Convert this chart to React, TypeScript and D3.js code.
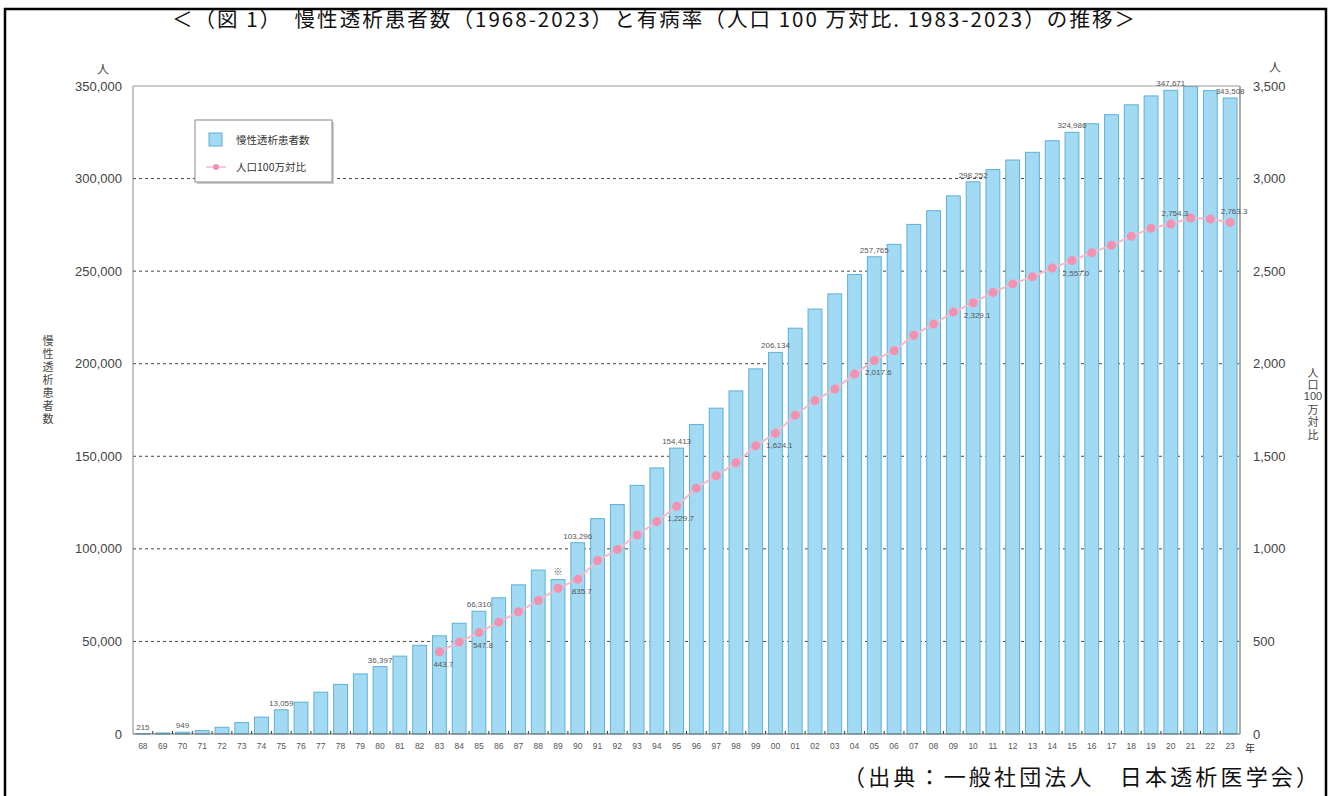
import * as React from "react";
import * as d3 from "d3";

// 年 (西暦の下2桁)
const years = ["68","69","70","71","72","73","74","75","76","77","78","79","80","81","82","83","84","85","86","87","88","89","90","91","92","93","94","95","96","97","98","99","00","01","02","03","04","05","06","07","08","09","10","11","12","13","14","15","16","17","18","19","20","21","22","23"];

// 慢性透析患者数 (人)
const patients = [215,550,949,1826,3631,6148,9107,13059,17211,22580,26807,32433,36397,42064,47881,53017,59811,66310,73537,80553,88534,83400,103296,116303,123926,134298,143709,154413,167192,175988,185322,197213,206134,219183,229538,237710,248166,257765,264473,275242,282622,290661,298252,304856,310007,314180,320448,324986,329609,334505,339841,344640,347671,349700,347474,343508];

// 人口100万対比 (1983-2023)
const rateYears = ["83","84","85","86","87","88","89","90","91","92","93","94","95","96","97","98","99","00","01","02","03","04","05","06","07","08","09","10","11","12","13","14","15","16","17","18","19","20","21","22","23"];
const rates = [443.7,497,547.8,604,660,721,787,835.7,937,997,1075,1147,1229.7,1328,1395,1465,1557,1624.1,1722,1801,1863,1944,2017.6,2070,2154,2214,2279,2329.1,2385,2431,2470,2517,2557.0,2600,2640,2688,2732,2754.3,2787,2781,2763.3];

// 値ラベルを付ける年
const barLabelYears = ["68","70","75","80","85","90","95","00","05","10","15","20","23"];
const rateLabelYears = ["83","85","90","95","00","05","10","15","20","23"];

const leftTicks = [0,50000,100000,150000,200000,250000,300000,350000];
const rightTicks = [0,500,1000,1500,2000,2500,3000,3500];

const title = "＜（図 1）　慢性透析患者数（1968-2023）と有病率（人口 100 万対比. 1983-2023）の推移＞";
const source = "（出典：一般社団法人　日本透析医学会）";

const W = 1330, H = 796;
const cjk = "'Noto Sans CJK JP', sans-serif";
const num = "'Liberation Sans', Arial, sans-serif";

export default function App() {
  const node = React.useRef<SVGSVGElement>(null);

  React.useEffect(() => {
    const svg = d3.select(node.current);
    svg.selectAll("*").remove();

    const left = 133, right = 1240, top = 86, bottom = 734;

    const x = d3.scaleBand().domain(years).range([left, right]).paddingInner(0.3).paddingOuter(0.15);
    const y = d3.scaleLinear().domain([0, 350000]).range([bottom, top]);
    const yR = d3.scaleLinear().domain([0, 3500]).range([bottom, top]);
    const cx = (k) => x(k) + x.bandwidth() / 2;

    // 外枠
    svg.append("rect").attr("x", 5).attr("y", 9).attr("width", 1321).attr("height", 820)
      .attr("fill", "#fff").attr("stroke", "#000").attr("stroke-width", 2.5);

    svg.append("text").attr("x", 172).attr("y", 27)
      .attr("textLength", 963).attr("lengthAdjust", "spacing")
      .style("font-family", cjk).style("font-size", "20.5px").attr("fill", "#111").text(title);

    svg.append("text").attr("x", 843).attr("y", 785)
      .attr("textLength", 475).attr("lengthAdjust", "spacing")
      .style("font-family", cjk).style("font-size", "22px").attr("fill", "#111").text(source);

    // グリッド
    svg.append("g").selectAll("line").data(leftTicks.filter(d => d > 0 && d < 350000)).join("line")
      .attr("x1", left).attr("x2", right).attr("y1", d => y(d)).attr("y2", d => y(d))
      .attr("stroke", "#444").attr("stroke-width", 1).attr("stroke-dasharray", "3,3");

    // 棒
    svg.append("g").selectAll("rect").data(patients).join("rect")
      .attr("x", (d, i) => x(years[i]))
      .attr("y", d => y(d))
      .attr("width", x.bandwidth())
      .attr("height", d => bottom - y(d))
      .attr("fill", "#a2daf3").attr("stroke", "#5fb0d4").attr("stroke-width", 1);

    // 枠線
    svg.append("line").attr("x1", left).attr("x2", right).attr("y1", top).attr("y2", top).attr("stroke", "#999");
    svg.append("line").attr("x1", left).attr("x2", left).attr("y1", top).attr("y2", bottom).attr("stroke", "#888");
    svg.append("line").attr("x1", right).attr("x2", right).attr("y1", top).attr("y2", bottom).attr("stroke", "#aaa").attr("stroke-width", 2);
    svg.append("line").attr("x1", left).attr("x2", right).attr("y1", bottom).attr("y2", bottom).attr("stroke", "#666");

    // x軸の目盛り
    svg.append("g").selectAll("line").data(years.slice(1)).join("line")
      .attr("x1", d => x(d) - x.step() * 0.15).attr("x2", d => x(d) - x.step() * 0.15)
      .attr("y1", bottom - 3).attr("y2", bottom).attr("stroke", "#333");

    svg.append("g").selectAll("text").data(years).join("text")
      .attr("x", d => cx(d)).attr("y", 749).attr("text-anchor", "middle")
      .style("font-family", num).style("font-size", "8.5px").attr("fill", "#555").text(d => d);
    svg.append("text").attr("x", 1250).attr("y", 752).attr("text-anchor", "middle")
      .style("font-family", cjk).style("font-size", "10px").attr("fill", "#333").text("年");

    // 左軸
    svg.append("g").selectAll("text").data(leftTicks).join("text")
      .attr("x", 122).attr("y", d => y(d) + 4.5).attr("text-anchor", "end")
      .style("font-family", num).style("font-size", "13px").attr("fill", "#444").text(d => d3.format(",")(d));
    svg.append("text").attr("x", 103).attr("y", 74).attr("text-anchor", "middle")
      .style("font-family", cjk).style("font-size", "12px").attr("fill", "#444").text("人");
    svg.append("text").attr("x", 48).attr("y", 335)
      .style("writing-mode", "vertical-rl").style("letter-spacing", "2px")
      .style("font-family", cjk).style("font-size", "11px").attr("fill", "#444").text("慢性透析患者数");

    // 右軸
    svg.append("g").selectAll("text").data(rightTicks).join("text")
      .attr("x", 1253).attr("y", d => yR(d) + 4.5).attr("text-anchor", "start")
      .style("font-family", num).style("font-size", "13px").attr("fill", "#444").text(d => d3.format(",")(d));
    svg.append("text").attr("x", 1275).attr("y", 72).attr("text-anchor", "middle")
      .style("font-family", cjk).style("font-size", "12px").attr("fill", "#444").text("人");
    svg.append("text").attr("x", 1313).attr("y", 367)
      .style("writing-mode", "vertical-rl").style("letter-spacing", "1.5px")
      .style("font-family", cjk).style("font-size", "11px").attr("fill", "#444").text("人口");
    svg.append("text").attr("x", 1313).attr("y", 400).attr("text-anchor", "middle")
      .style("font-family", num).style("font-size", "11px").attr("fill", "#444").text("100");
    svg.append("text").attr("x", 1313).attr("y", 404)
      .style("writing-mode", "vertical-rl").style("letter-spacing", "1.5px")
      .style("font-family", cjk).style("font-size", "11px").attr("fill", "#444").text("万対比");

    // 棒の値ラベル
    svg.append("g").selectAll("text").data(barLabelYears).join("text")
      .attr("x", d => cx(d)).attr("y", d => y(patients[years.indexOf(d)]) - 4).attr("text-anchor", "middle")
      .style("font-family", num).style("font-size", "8px").attr("fill", "#555")
      .text(d => d3.format(",")(patients[years.indexOf(d)]));
    svg.append("text").attr("x", cx("89")).attr("y", y(patients[years.indexOf("89")]) - 5).attr("text-anchor", "middle")
      .style("font-family", cjk).style("font-size", "9px").attr("fill", "#555").text("※");

    // 折れ線
    const line = d3.line<number>().x((d, i) => cx(rateYears[i])).y(d => yR(d));
    svg.append("path").datum(rates).attr("d", line).attr("fill", "none")
      .attr("stroke", "#f4b8cb").attr("stroke-width", 2);
    svg.append("g").selectAll("circle").data(rates).join("circle")
      .attr("cx", (d, i) => cx(rateYears[i])).attr("cy", d => yR(d)).attr("r", 4.5)
      .attr("fill", "#f291b0");

    svg.append("g").selectAll("text").data(rateLabelYears).join("text")
      .attr("x", d => cx(d) + 4)
      .attr("y", d => {
        const v = rates[rateYears.indexOf(d)];
        return d === "20" || d === "23" ? yR(v) - 8 : yR(v) + 15;
      })
      .attr("text-anchor", "middle")
      .style("font-family", num).style("font-size", "8px").attr("fill", "#555")
      .text(d => d3.format(",.1f")(rates[rateYears.indexOf(d)]));

    // 凡例
    const lg = svg.append("g");
    lg.append("rect").attr("x", 197).attr("y", 122).attr("width", 137).attr("height", 62).attr("fill", "#ccc");
    lg.append("rect").attr("x", 195).attr("y", 120).attr("width", 137).attr("height", 62)
      .attr("fill", "#fff").attr("stroke", "#888");
    lg.append("rect").attr("x", 209).attr("y", 133).attr("width", 13).attr("height", 13)
      .attr("fill", "#a2daf3").attr("stroke", "#5fb0d4");
    lg.append("text").attr("x", 236).attr("y", 144).style("font-family", cjk).style("font-size", "10.5px")
      .attr("fill", "#333").text("慢性透析患者数");
    lg.append("line").attr("x1", 206).attr("x2", 226).attr("y1", 167).attr("y2", 167).attr("stroke", "#f4b8cb").attr("stroke-width", 1.5);
    lg.append("circle").attr("cx", 216).attr("cy", 167).attr("r", 3).attr("fill", "#f291b0");
    lg.append("text").attr("x", 236).attr("y", 171).style("font-family", cjk).style("font-size", "10.5px")
      .attr("fill", "#333").text("人口100万対比");
  }, []);

  return (
    <svg ref={node} width={W} height={H}
      style={{ position: "absolute", left: 0, top: 0, background: "#fff" }} />
  );
}
